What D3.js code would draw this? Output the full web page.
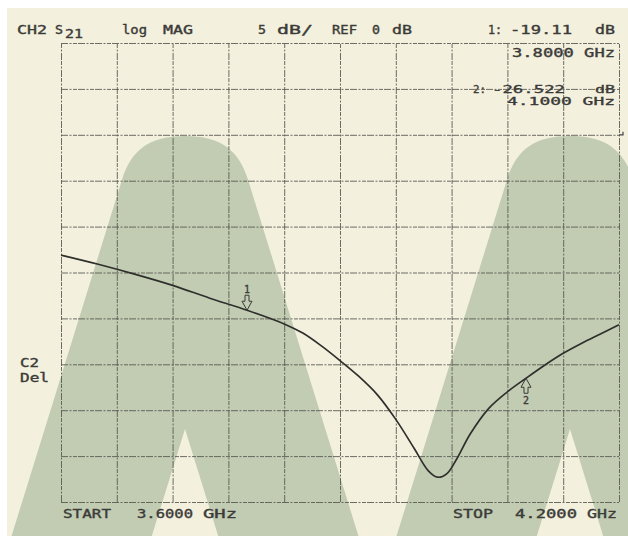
<!DOCTYPE html>
<html>
<head>
<meta charset="utf-8">
<script src="https://cdn.jsdelivr.net/npm/d3@7/dist/d3.min.js"></script>
<style>
  html, body { margin: 0; padding: 0; background: #ffffff; }
  svg { display: block; }
  .lbl { font-family: "DejaVu Sans Mono", "Liberation Mono", monospace; font-size: 11.5px;
         fill: #3b3b38; stroke: #3b3b38; stroke-width: 0.35px; }
</style>
</head>
<body>
<svg id="chart" width="628" height="537"></svg>
<script>
// ---- data ----
const freqGHz = [3.600, 3.640, 3.680, 3.720, 3.760, 3.800, 3.840, 3.860, 3.880, 3.900,
                 3.920, 3.940, 3.960, 3.980, 3.995, 4.005, 4.015, 4.025, 4.040, 4.060,
                 4.080, 4.100, 4.120, 4.140, 4.160, 4.180, 4.200];
const s21dB   = [-13.1, -14.1, -15.2, -16.4, -17.8, -19.11, -20.6, -21.6, -23.0, -24.6,
                 -26.3, -28.3, -31.0, -34.2, -36.6, -37.3, -36.9, -35.4, -32.6, -29.8,
                 -28.0, -26.522, -25.1, -23.8, -22.7, -21.7, -20.7];
const xTicks = [3.60, 3.66, 3.72, 3.78, 3.84, 3.90, 3.96, 4.02, 4.08, 4.14, 4.20];
const yTicks = [10, 5, 0, -5, -10, -15, -20, -25, -30, -35, -40];
const refLevel = 0;
const markerNames = ["1", "2"];
const markerFreq = [3.8, 4.1];
const markerDB = [-19.11, -26.522];

// ---- layout ----
const svg = d3.select("#chart");
const W = 628, H = 537;
const plot = { left: 61, right: 619, top: 43, bottom: 502 };

const x = d3.scaleLinear().domain([3.6, 4.2]).range([plot.left, plot.right]);
const y = d3.scaleLinear().domain([-40, 10]).range([plot.bottom, plot.top]);

// paper
svg.append("rect").attr("x", 7).attr("y", 8).attr("width", W - 7).attr("height", 536 - 8)
   .attr("fill", "#f3f0de");
svg.append("clipPath").attr("id", "paper").append("rect")
   .attr("x", 7).attr("y", 8).attr("width", W - 7).attr("height", 536 - 8);

// green "M" watermark
function archPath(cx) {
  const slope = 0.31, hwRef = 91, yRef = 270;
  const hw = yy => hwRef + slope * (yy - yRef);
  const yb = 545, yc = 180, top = 136, apex = 429;
  const p = d3.path();
  p.moveTo(cx - hw(yb), yb);
  p.lineTo(cx - hw(yc), yc);
  p.bezierCurveTo(cx - hw(yc) + slope * 30, yc - 30, cx - 36, top, cx, top);
  p.bezierCurveTo(cx + 36, top, cx + hw(yc) - slope * 30, yc - 30, cx + hw(yc), yc);
  p.lineTo(cx + hw(yb), yb);
  p.lineTo(cx + (yb - apex) * slope, yb);
  p.lineTo(cx, apex);
  p.lineTo(cx - (yb - apex) * slope, yb);
  p.closePath();
  return p.toString();
}
const wm = svg.append("g").attr("clip-path", "url(#paper)");
[185, 570].forEach(cx => wm.append("path").attr("d", archPath(cx)).attr("fill", "#c2ccb3"));

// grid via axes
const gridStyle = sel => {
  sel.select(".domain").remove();
  sel.selectAll("text").remove();
  sel.selectAll("line").attr("stroke", "#55554f").attr("stroke-width", 1)
     .attr("stroke-dasharray", "7,1.5,2,1.5,4,1").attr("opacity", 0.85);
};
svg.append("g").attr("transform", `translate(0,${plot.bottom})`)
   .call(d3.axisBottom(x).tickValues(xTicks).tickSize(-(plot.bottom - plot.top)).tickFormat(""))
   .call(gridStyle);
svg.append("g").attr("transform", `translate(${plot.left},0)`)
   .call(d3.axisLeft(y).tickValues(yTicks).tickSize(-(plot.right - plot.left)).tickFormat(""))
   .call(gridStyle);

// reference position indicator
svg.append("path")
   .attr("d", `M${plot.right},${y(refLevel)} H${plot.right + 4} V${y(refLevel) - 3}`)
   .attr("fill", "none").attr("stroke", "#444").attr("stroke-width", 1.2);

// trace
const line = d3.line().x((d, i) => x(freqGHz[i])).y(d => y(d)).curve(d3.curveCatmullRom.alpha(0.5));
svg.append("path").datum(s21dB).attr("d", line)
   .attr("fill", "none").attr("stroke", "#2f2f2c").attr("stroke-width", 1.7)
   .attr("stroke-linejoin", "round");

// markers
markerFreq.forEach((f, i) => {
  const mx = x(f), my = y(markerDB[i]);
  const dir = i === 0 ? -1 : 1; // marker 1 above trace pointing down, marker 2 below pointing up
  const p = d3.path();
  p.moveTo(mx, my);
  p.lineTo(mx - 5, my + dir * 9);
  p.lineTo(mx - 2, my + dir * 9);
  p.lineTo(mx - 2, my + dir * 15);
  p.lineTo(mx + 2, my + dir * 15);
  p.lineTo(mx + 2, my + dir * 9);
  p.lineTo(mx + 5, my + dir * 9);
  p.closePath();
  svg.append("path").attr("d", p.toString()).attr("fill", "none")
     .attr("stroke", "#3b3b38").attr("stroke-width", 1);
  svg.append("text").attr("class", "lbl")
     .attr("x", mx).attr("y", i === 0 ? my - 17 : my + 26)
     .attr("text-anchor", "middle").style("font-size", "10px")
     .text(markerNames[i]);
});

// annotation texts [text, x, baseline, width, size]
const labels = [
  ["CH2", 17, 34, 30], ["S", 55, 34, 8], ["21", 65, 38, 18],
  ["log", 122, 34, 25], ["MAG", 163, 34, 30], ["5", 258, 34, 8], ["dB/", 277, 34, 36],
  ["REF", 332, 34, 25], ["0", 372, 34, 8], ["dB", 392, 34, 20],
  ["1:", 488, 34, 14], ["-19.11", 510, 34, 62], ["dB", 595, 34, 20],
  ["3.8000 GHz", 512, 57, 103],
  ["2:", 473, 93, 13, 11], ["-26.522", 492, 93, 73, 11], ["dB", 595, 93, 20, 11],
  ["4.1000 GHz", 507, 104.5, 108, 11],
  ["C2", 20, 367, 19], ["Del", 20, 382, 29],
  ["START", 63, 518, 48], ["3.6000", 137, 518, 56], ["GHz", 203, 518, 34],
  ["STOP", 453, 518, 40], ["4.2000", 515, 518, 62], ["GHz", 587, 518, 30]
];
svg.selectAll("text.ann").data(labels).enter().append("text")
   .attr("class", "lbl ann")
   .attr("x", d => d[1]).attr("y", d => d[2])
   .attr("textLength", d => d[3]).attr("lengthAdjust", "spacingAndGlyphs")
   .style("font-size", d => (d[4] || 11.5) + "px")
   .text(d => d[0]);
</script>
</body>
</html>
